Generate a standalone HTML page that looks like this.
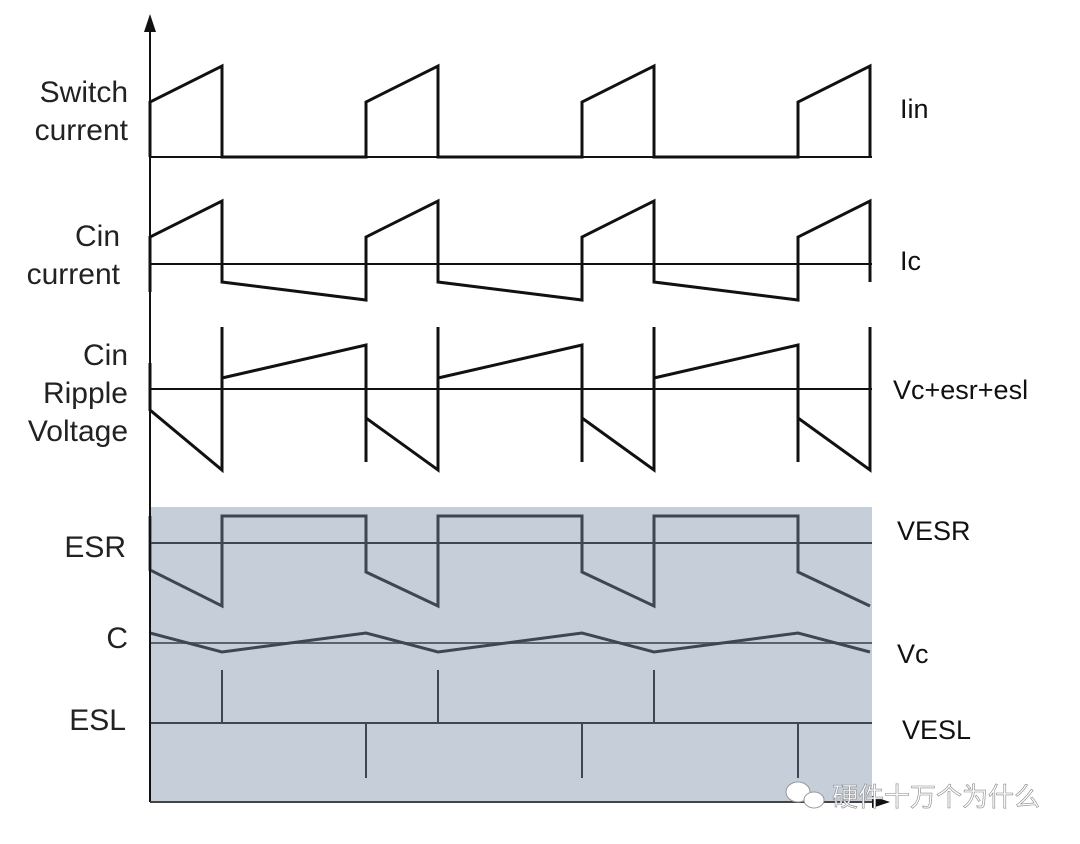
<!DOCTYPE html>
<html><head><meta charset="utf-8"><style>
body{margin:0;background:#fff;}
svg{display:block}
.l{font-family:"Liberation Sans",sans-serif;font-size:30px;fill:#222;text-anchor:end}
.r{font-family:"Liberation Sans",sans-serif;font-size:27px;fill:#111}
</style></head><body>
<svg width="1080" height="844" viewBox="0 0 1080 844" xmlns="http://www.w3.org/2000/svg">
<rect x="150" y="507" width="722" height="294" fill="#c5ced9"/>
<g stroke="#111" fill="none" stroke-width="3">
<line x1="150" y1="157" x2="872" y2="157" stroke-width="2"/>
<polyline points="150,157 150,102 222,66 222,157 366,157 366,102 438,66 438,157 582,157 582,102 654,66 654,157 798,157 798,102 870,66 870,157"/>
<line x1="150" y1="264" x2="872" y2="264" stroke-width="2"/>
<polyline points="150,292 150,237 222,201 222,282 366,300 366,237 438,201 438,282 582,300 582,237 654,201 654,282 798,300 798,237 870,201 870,282"/>
<line x1="150" y1="389" x2="872" y2="389" stroke-width="2"/>
<polyline points="150,363 150,410 222,470 222,327"/>
<polyline points="222,378 366,345 366,462"/>
<polyline points="366,418 438,470 438,327"/>
<polyline points="438,378 582,345 582,462"/>
<polyline points="582,418 654,470 654,327"/>
<polyline points="654,378 798,345 798,462"/>
<polyline points="798,418 870,470 870,327"/>
</g>
<g stroke="#3d4753" fill="none" stroke-width="3">
<line x1="150" y1="543" x2="872" y2="543" stroke-width="2"/>
<polyline points="150,516 150,570 222,606 222,516 366,516 366,572 438,606 438,516 582,516 582,572 654,606 654,516 798,516 798,572 870,606"/>
<line x1="150" y1="643" x2="872" y2="643" stroke-width="2" stroke="#5a6470"/>
<polyline points="150,633 222,652 366,633 438,652 582,633 654,652 798,633 870,652"/>
<line x1="150" y1="723" x2="872" y2="723" stroke-width="2"/>
<g stroke-width="2">
<line x1="222" y1="670" x2="222" y2="723"/><line x1="438" y1="670" x2="438" y2="723"/><line x1="654" y1="670" x2="654" y2="723"/>
<line x1="366" y1="723" x2="366" y2="778"/><line x1="582" y1="723" x2="582" y2="778"/><line x1="798" y1="723" x2="798" y2="778"/>
</g>
</g>
<line x1="150" y1="28" x2="150" y2="802" stroke="#111" stroke-width="2"/>
<polygon points="150,14 144,32 156,32" fill="#111"/>
<line x1="150" y1="802" x2="872" y2="802" stroke="#444" stroke-width="2"/>
<polygon points="890,802 872,796 872,808" fill="#111"/>
<text class="l" x="128" y="102">Switch</text>
<text class="l" x="128" y="140">current</text>
<text class="l" x="120" y="246">Cin</text>
<text class="l" x="120" y="284">current</text>
<text class="l" x="128" y="365">Cin</text>
<text class="l" x="128" y="403">Ripple</text>
<text class="l" x="128" y="441">Voltage</text>
<text class="l" x="126" y="557">ESR</text>
<text class="l" x="128" y="648">C</text>
<text class="l" x="126" y="730">ESL</text>
<text class="r" x="900" y="118">Iin</text>
<text class="r" x="900" y="270">Ic</text>
<text class="r" x="893" y="399">Vc+esr+esl</text>
<text class="r" x="897" y="540">VESR</text>
<text class="r" x="897" y="663">Vc</text>
<text class="r" x="902" y="739">VESL</text>
<g fill="#fff" stroke="#999" stroke-width="1">
<ellipse cx="798" cy="792" rx="12" ry="10"/><ellipse cx="814" cy="800" rx="10" ry="8"/>
</g>
<text x="832" y="806" font-family="'Liberation Sans','Noto Sans CJK SC',sans-serif" font-size="26" fill="#fff" stroke="#888" stroke-width="0.6">硬件十万个为什么</text>
</svg>
</body></html>
